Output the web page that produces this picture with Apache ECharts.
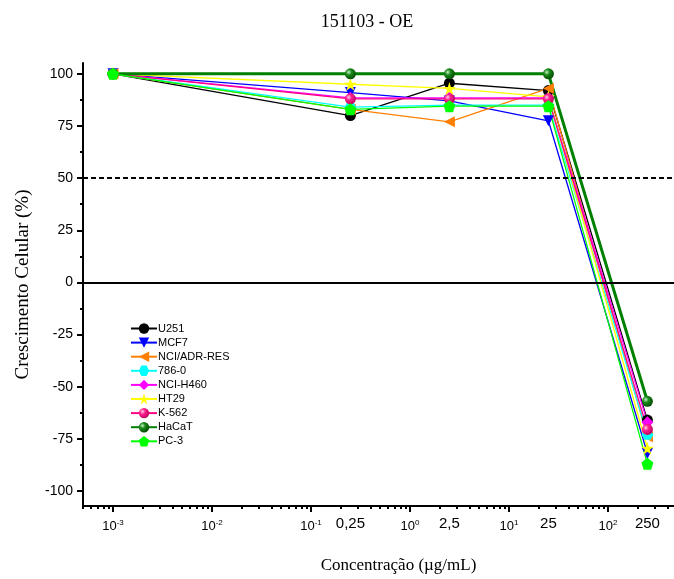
<!DOCTYPE html>
<html>
<head>
<meta charset="utf-8">
<script src="https://cdn.jsdelivr.net/npm/echarts@6/dist/echarts.min.js"></script>
<style>
  html, body { margin: 0; padding: 0; background: #fff; }
  #chart { width: 674px; height: 579px; }
</style>
</head>
<body>
<div id="chart"></div>
<script>
// concentrações (µg/mL)
const conc = [0.001, 0.25, 2.5, 25, 250];

const U251 = [100, 80, 95.5, 92, -66];
const MCF7 = [100, 91, 87, 77.5, -82];
const NCI_ADR_RES = [100, 83, 77, 93, -74];
const c786_0 = [100, 84, 85, 85, -73];
const NCI_H460 = [100, 88.5, 88.5, 88.5, -67];
const HT29 = [100, 95, 93, 89, -79.5];
const K562 = [100, 88, 88, 88, -70.5];
const HaCaT = [100, 100, 100, 100, -57];
const PC3 = [100, 83, 84.5, 84.5, -87];

const decadeTicks = [0.001, 0.01, 0.1, 1, 10, 100];
const extraTicks = [0.25, 2.5, 25, 250];
const yTicks = [-100, -75, -50, -25, 0, 25, 50, 75, 100];
const yMinor = [-87.5, -62.5, -37.5, -12.5, 12.5, 37.5, 62.5, 87.5];

// minor ticks 2..9 em cada década
let xMinor = [];
[0.0001, 0.001, 0.01, 0.1, 1, 10, 100].forEach(function (d) {
    for (let k = 2; k <= 9; k++) xMinor.push(+(k * d).toPrecision(3));
});

const hexagon = 'path://M-1,0 L-0.5,-0.87 L0.5,-0.87 L1,0 L0.5,0.87 L-0.5,0.87 Z';
const star = 'path://M0,-1 L0.2245,-0.309 L0.951,-0.309 L0.363,0.118 L0.588,0.809 L0,0.382 L-0.588,0.809 L-0.363,0.118 L-0.951,-0.309 L-0.2245,-0.309 Z';
const pentagon = 'path://M0,-1 L0.951,-0.309 L0.588,0.809 L-0.588,0.809 L-0.951,-0.309 Z';

function sphere(light, mid, dark) {
    return {
        type: 'radial', x: 0.35, y: 0.35, r: 0.75,
        colorStops: [
            {offset: 0, color: light},
            {offset: 0.35, color: mid},
            {offset: 1, color: dark}
        ]
    };
}

const xMin = 0.000498, xMax = 464;
const font = 'Liberation Sans';
const serif = 'Liberation Serif';

function mkSeries(name, vals, color, symbol, opts) {
    opts = opts || {};
    return {
        name: name,
        type: 'line',
        data: conc.map(function (c, i) { return [c, vals[i]]; }),
        symbol: symbol,
        symbolSize: opts.size || 11,
        symbolRotate: opts.rotate || 0,
        showAllSymbol: true,
        lineStyle: {color: color, width: opts.width || 1.3},
        itemStyle: {color: opts.fill || color, borderWidth: 0},
        z: opts.z || 2
    };
}

let series = [
    mkSeries('U251', U251, '#000000', 'circle'),
    mkSeries('MCF7', MCF7, '#0000FF', 'triangle', {rotate: 180}),
    mkSeries('NCI/ADR-RES', NCI_ADR_RES, '#FF8000', 'triangle', {rotate: 90}),
    mkSeries('786-0', c786_0, '#00FFFF', hexagon, {size: [12, 10]}),
    mkSeries('NCI-H460', NCI_H460, '#FF00FF', 'diamond', {size: 12}),
    mkSeries('HT29', HT29, '#FFFF00', star, {size: 13}),
    mkSeries('K-562', K562, '#FF0080', 'circle', {fill: sphere('#ffd0e6', '#ff2090', '#b00050')}),
    mkSeries('HaCaT', HaCaT, '#008000', 'circle', {width: 3, fill: sphere('#c8f0c8', '#1a8a1a', '#004000')}),
    mkSeries('PC-3', PC3, '#00FF00', pentagon, {size: 12})
];

// linhas de referência em 50 (tracejada) e 0
series[0].markLine = {
    silent: true,
    symbol: ['none', 'none'],
    label: {show: false},
    lineStyle: {color: '#000', width: 2},
    data: [
        {yAxis: 50, lineStyle: {type: [5, 3], color: '#000', width: 2}},
        {yAxis: 0, lineStyle: {type: 'solid', color: '#000', width: 2}}
    ]
};

let option = {
    animation: false,
    backgroundColor: '#fff',
    title: {
        text: '151103 - OE',
        left: 362,
        textAlign: 'center',
        top: 8,
        textStyle: {fontFamily: serif, fontSize: 18, fontWeight: 'normal', color: '#000'}
    },
    legend: {
        orient: 'vertical',
        left: 125,
        top: 318,
        itemWidth: 26,
        itemHeight: 13,
        itemGap: 3.1,
        textStyle: {fontFamily: font, fontSize: 11, color: '#000', padding: [0, 0, 0, -4]},
        data: series.map(function (s) { return s.name; })
    },
    grid: {left: 83, right: 0, top: 63, bottom: 71, containLabel: false},
    xAxis: [
        {
            type: 'log', logBase: 10, min: xMin, max: xMax, position: 'bottom',
            name: 'Concentração (µg/mL)',
            nameLocation: 'middle', nameGap: 51,
            nameTextStyle: {fontFamily: serif, fontSize: 17, color: '#000', padding: [0, 0, 0, 40]},
            axisLine: {onZero: false, lineStyle: {color: '#000', width: 2}},
            axisTick: {customValues: decadeTicks, length: 6, lineStyle: {color: '#000', width: 2}},
            axisLabel: {
                customValues: decadeTicks,
                margin: 13,
                color: '#000',
                fontFamily: font,
                fontSize: 13,
                formatter: function (v) { return '10{s|' + Math.round(Math.log10(v)) + '}'; },
                rich: {s: {fontSize: 8, fontFamily: font, color: '#000', verticalAlign: 'top', padding: [0, 0, 6, 0]}}
            },
            splitLine: {show: false}
        },
        {
            type: 'log', logBase: 10, min: xMin, max: xMax, position: 'bottom',
            axisLine: {show: false, onZero: false},
            axisTick: {customValues: xMinor, length: 3, lineStyle: {color: '#000', width: 2}},
            axisLabel: {show: false},
            splitLine: {show: false}
        },
        {
            type: 'log', logBase: 10, min: xMin, max: xMax, position: 'bottom',
            axisLine: {show: false, onZero: false},
            axisTick: {show: false},
            axisLabel: {
                customValues: extraTicks,
                margin: 10,
                color: '#000',
                fontFamily: font,
                fontSize: 15,
                formatter: function (v) { return String(v).replace('.', ','); }
            },
            splitLine: {show: false}
        }
    ],
    yAxis: [
        {
            type: 'value', min: -107.2, max: 105.2, position: 'left',
            name: 'Crescimento Celular (%)',
            nameLocation: 'middle', nameGap: 50,
            nameTextStyle: {fontFamily: serif, fontSize: 19, color: '#000'},
            axisLine: {show: true, onZero: false, lineStyle: {color: '#000', width: 2}},
            axisTick: {show: true, customValues: yTicks, length: 6, lineStyle: {color: '#000', width: 2}},
            axisLabel: {customValues: yTicks, margin: 10, color: '#000', fontFamily: font, fontSize: 14},
            splitLine: {show: false}
        },
        {
            type: 'value', min: -107.2, max: 105.2, position: 'left',
            axisLine: {show: false, onZero: false},
            axisTick: {show: true, customValues: yMinor, length: 3, lineStyle: {color: '#000', width: 2}},
            axisLabel: {show: false},
            splitLine: {show: false}
        }
    ],
    series: series
};

let myChart = echarts.init(document.getElementById('chart'));
myChart.setOption(option);

window.addEventListener('resize', function () {
    myChart.resize();
}, false);
</script>
</body>
</html>
